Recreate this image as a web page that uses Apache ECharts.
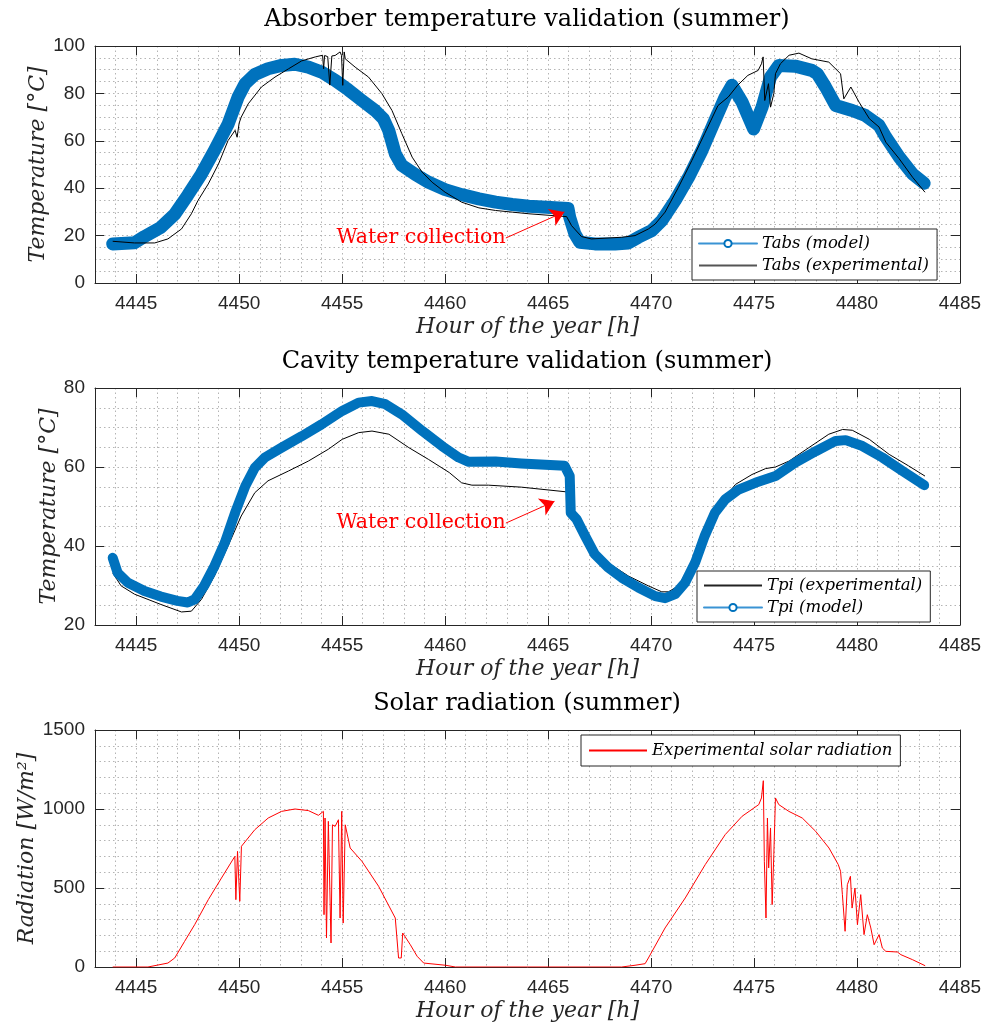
<!DOCTYPE html>
<html>
<head>
<meta charset="utf-8">
<script src="https://cdn.jsdelivr.net/npm/echarts@6/dist/echarts.min.js"></script>
<style>
html,body{margin:0;padding:0;background:#fff;}
#chart{width:981px;height:1027px;}
</style>
</head>
<body>
<div id="chart"></div>
<script>
// ---------- DATA ----------
const xTicks = [4445, 4450, 4455, 4460, 4465, 4470, 4475, 4480, 4485];

// Absorber temperature (plot 1)
const absModelHour = [4443.86, 4444.92, 4445.4, 4446.2, 4446.87, 4447.5, 4448.17, 4448.8, 4449.46, 4449.95, 4450.28, 4450.76, 4451.4, 4452.06, 4452.7, 4453.36, 4454.0, 4454.66, 4455.3, 4455.96, 4456.6, 4457.0, 4457.26, 4457.58, 4457.9, 4458.55, 4459.2, 4460.0, 4460.8, 4461.64, 4462.45, 4463.26, 4464.07, 4465.97, 4466.05, 4466.3, 4466.54, 4467.27, 4468.25, 4468.9, 4469.38, 4470.03, 4470.52, 4471.17, 4471.82, 4472.47, 4473.1, 4473.6, 4473.93, 4474.42, 4474.98, 4475.39, 4475.8, 4476.2, 4477.0, 4477.8, 4478.07, 4478.47, 4478.96, 4479.77, 4480.4, 4481.07, 4481.4, 4482.05, 4482.7, 4483.26];
const absModelTemp = [16.5, 17, 19.6, 23.5, 29, 37, 46, 56, 67, 78.5, 84, 88, 90.4, 91.8, 92.3, 91.1, 89, 85.5, 81.5, 77, 72.8, 69.3, 64.4, 54.5, 49.6, 45.8, 42.5, 39.4, 37.3, 35.5, 34.1, 33.1, 32.4, 31.4, 27.7, 20.7, 17.2, 16.5, 16.5, 16.9, 19.3, 22.1, 26.3, 34.8, 44.6, 55.9, 68.6, 78.5, 83.4, 76.3, 65, 74.2, 86.9, 91.8, 91.5, 89.7, 88.3, 82.7, 74.9, 72.8, 70.7, 66.5, 61.5, 53.1, 46, 42.1];
const absExpHour = [4443.86, 4444.92, 4445.9, 4446.54, 4447.2, 4447.68, 4448.0, 4448.5, 4449.0, 4449.46, 4449.8, 4449.9, 4450.0, 4450.1, 4450.44, 4451.08, 4451.74, 4452.4, 4453.03, 4453.7, 4454.05, 4454.1, 4454.15, 4454.3, 4454.4, 4454.5, 4454.66, 4454.9, 4454.97, 4455.03, 4455.1, 4455.15, 4455.63, 4456.28, 4456.93, 4457.42, 4457.9, 4458.4, 4458.88, 4459.37, 4460.0, 4460.8, 4461.64, 4462.45, 4463.26, 4464.07, 4465.9, 4466.14, 4466.62, 4467.1, 4468.57, 4469.22, 4469.87, 4470.2, 4470.68, 4471.33, 4471.98, 4472.6, 4473.25, 4473.75, 4474.2, 4474.7, 4475.2, 4475.36, 4475.44, 4475.52, 4475.7, 4475.8, 4475.96, 4476.04, 4476.28, 4476.7, 4477.18, 4477.8, 4478.63, 4479.2, 4479.36, 4479.7, 4480.1, 4480.6, 4481.07, 4481.4, 4482.05, 4482.7, 4483.3];
const absExpTemp = [17.6, 16.9, 16.9, 18.6, 22.8, 29.2, 34.8, 41.8, 50.3, 60.1, 64.4, 61.5, 67.5, 70, 75.6, 82.7, 86.9, 90.4, 93.7, 95.4, 96.1, 90.4, 96.0, 95.5, 83.5, 95.8, 96.0, 97.5, 96.0, 83.4, 97.5, 94.6, 91.1, 86.9, 79.9, 72.8, 63, 53.1, 46.8, 42.5, 38.3, 34.1, 31.7, 30.6, 29.9, 29.2, 28.0, 24.2, 19.6, 18.6, 19.3, 20, 22.8, 24.9, 29.9, 40.4, 51.7, 63, 74.9, 78.5, 83.4, 87.6, 89.7, 92.5, 95.4, 77, 84.1, 74.2, 79.9, 88.3, 92.5, 96.1, 97, 94.6, 93.2, 88.3, 77.7, 82.7, 76.3, 69.3, 65.8, 59.4, 52.4, 44.6, 38.3];

// Cavity temperature (plot 2)
const cavExpHour = [4443.86, 4444.27, 4444.92, 4446.2, 4447.2, 4447.68, 4448.17, 4448.8, 4449.46, 4450.1, 4450.76, 4451.4, 4452.4, 4453.36, 4454.33, 4455.0, 4455.8, 4456.45, 4457.27, 4458.24, 4459.2, 4460.2, 4460.8, 4461.3, 4462.1, 4463.7, 4465.9, 4466.14, 4466.62, 4467.27, 4467.9, 4468.9, 4469.87, 4470.52, 4470.84, 4471.33, 4471.98, 4472.8, 4473.44, 4474.1, 4474.9, 4475.56, 4476.04, 4476.7, 4477.66, 4478.63, 4479.3, 4479.77, 4480.6, 4481.56, 4482.5, 4483.3];
const cavExpTemp = [33.2, 29.9, 27.8, 25.2, 23.3, 23.5, 26.5, 32.4, 40, 47.6, 53.5, 56.5, 59, 61.5, 64.5, 67, 68.7, 69.1, 68.3, 64.9, 61.9, 58.6, 56, 55.4, 55.4, 54.9, 53.7, 49.7, 45.1, 39.2, 35.8, 32.4, 29.9, 28.4, 28.4, 29.9, 35.8, 45.1, 51.4, 55.6, 58.1, 59.6, 60, 61.5, 64.9, 68.3, 69.5, 69.3, 67, 63.2, 60.3, 57.7];
const cavModelHour = [4443.86, 4444.1, 4444.6, 4445.4, 4446.2, 4447.0, 4447.5, 4447.84, 4448.3, 4448.8, 4449.3, 4449.8, 4450.3, 4450.76, 4451.25, 4452.06, 4453.04, 4454.0, 4455.0, 4455.8, 4456.45, 4457.1, 4457.9, 4458.9, 4459.85, 4460.66, 4461.15, 4462.45, 4463.7, 4465.8, 4466.05, 4466.1, 4466.38, 4466.8, 4467.27, 4467.9, 4468.57, 4469.38, 4470.2, 4470.68, 4471.17, 4471.65, 4472.14, 4472.6, 4473.1, 4473.6, 4474.25, 4475.06, 4476.04, 4477.0, 4478.0, 4478.96, 4479.45, 4480.26, 4481.23, 4482.2, 4483.26];
const cavModelTemp = [37, 33.2, 30.7, 28.6, 27.2, 26.1, 25.7, 26.5, 29.9, 34.9, 40.8, 48.4, 55.2, 59.8, 62.4, 64.9, 67.8, 70.8, 74.2, 76.3, 76.7, 75.9, 73.3, 69.1, 65.3, 62.4, 61.3, 61.4, 60.9, 60.3, 57.7, 48.4, 46.8, 42.5, 37.9, 34.6, 32, 29.5, 27.3, 26.8, 27.8, 30.7, 35.8, 42.5, 48.4, 51.8, 54.3, 56, 57.7, 61.1, 64, 66.6, 66.8, 65.3, 62.4, 59, 55.4];

// Solar radiation (plot 3)
const radHour = [4443.86, 4445.57, 4446.54, 4446.87, 4447.35, 4447.84, 4448.5, 4449.14, 4449.79, 4449.84, 4449.92, 4450.03, 4450.11, 4450.76, 4451.41, 4452.06, 4452.71, 4453.36, 4453.85, 4454.09, 4454.12, 4454.17, 4454.24, 4454.33, 4454.46, 4454.53, 4454.66, 4454.82, 4454.9, 4454.98, 4455.05, 4455.15, 4455.39, 4455.96, 4456.77, 4457.58, 4457.74, 4457.87, 4457.94, 4458.31, 4458.64, 4458.96, 4460.02, 4460.5, 4468.57, 4469.22, 4469.71, 4469.87, 4470.68, 4471.66, 4472.63, 4473.6, 4474.42, 4475.23, 4475.36, 4475.45, 4475.5, 4475.58, 4475.65, 4475.71, 4475.8, 4475.88, 4475.96, 4476.04, 4476.12, 4476.2, 4476.69, 4477.34, 4477.99, 4478.64, 4479.09, 4479.2, 4479.29, 4479.42, 4479.53, 4479.68, 4479.76, 4479.9, 4480.02, 4480.18, 4480.34, 4480.5, 4480.67, 4480.83, 4481.07, 4481.23, 4481.4, 4481.96, 4482.13, 4482.7, 4483.31];
const radValue = [0, 0, 25, 57, 162, 268, 426, 563, 700, 426, 732, 416, 764, 869, 943, 985, 1000, 990, 960, 985, 331, 943, 184, 922, 152, 900, 890, 932, 310, 985, 278, 900, 753, 669, 511, 310, 57, 57, 215, 141, 68, 25, 11, 0, 0, 11, 21, 57, 247, 437, 648, 838, 954, 1028, 1070, 1179, 669, 310, 943, 627, 880, 395, 711, 1070, 1080, 1028, 985, 943, 859, 753, 648, 606, 458, 226, 521, 574, 373, 500, 268, 458, 205, 331, 247, 141, 205, 120, 99, 95, 78, 46, 8];

// Annotation anchors (data coordinates)
const noteText = 'Water collection';
const note1Text = [4454.73, 19.0], note1From = [4462.95, 19.0], note1To = [4465.79, 30.0];
const note2Text = [4454.73, 45.8], note2From = [4462.95, 45.8], note2To = [4465.31, 51.3];

// ---------- STYLE ----------
const BLUE = '#0072BD';
const AX = '#262626';
const SANS = "'Liberation Sans', Arial, Helvetica, sans-serif";
const SERIF = "'DejaVu Serif', serif";
const grids = [
  {left: 95, right: 21, top: 46, height: 237},
  {left: 95, right: 21, top: 388, height: 237},
  {left: 95, right: 21, top: 730, height: 237}
];
const gridDot = {show: true, lineStyle: {color: '#b4b4b4', width: 1, type: [1.5, 3]}};
const plain = v => String(v);

const pairs = (xs, ys) => xs.map((x, i) => [x, ys[i]]);

const xAxes = [];
const yAxes = [];
const yCfg = [
  {min: 0, max: 100, interval: 20, minor: 4, name: 'Temperature [°C]', gap: 46},
  {min: 20, max: 80, interval: 20, minor: 4, name: 'Temperature [°C]', gap: 35},
  {min: 0, max: 1500, interval: 500, minor: 5, name: 'Radiation [W/m²]', gap: 57}
];
grids.forEach((g, gi) => {
  xAxes.push({
    type: 'value', gridIndex: gi, position: 'bottom', min: 4443, max: 4485,
    axisLine: {show: true, onZero: false, lineStyle: {color: AX, width: 1}},
    axisTick: {show: true, inside: true, length: 9, customValues: xTicks, lineStyle: {color: AX}},
    axisLabel: {show: true, customValues: xTicks, formatter: plain, margin: 11, color: AX, fontFamily: SANS, fontSize: 19},
    splitLine: {show: false},
    name: 'Hour of the year [h]', nameLocation: 'middle', nameGap: 33,
    nameTextStyle: {fontFamily: SERIF, fontStyle: 'italic', fontSize: 22, color: AX}
  });
  xAxes.push({
    type: 'value', gridIndex: gi, position: 'top', min: 4443, max: 4485,
    axisLine: {show: true, onZero: false, lineStyle: {color: AX, width: 1}},
    axisTick: {show: true, inside: true, length: 9, customValues: xTicks, lineStyle: {color: AX}},
    axisLabel: {show: false}, splitLine: {show: false}
  });
  xAxes.push({
    type: 'value', gridIndex: gi, position: 'bottom', min: 4443, max: 4485, interval: 1,
    axisLine: {show: false}, axisTick: {show: false}, axisLabel: {show: false},
    splitLine: gridDot
  });
  const c = yCfg[gi];
  yAxes.push({
    type: 'value', gridIndex: gi, position: 'left', min: c.min, max: c.max, interval: c.interval,
    axisLine: {show: true, onZero: false, lineStyle: {color: AX, width: 1}},
    axisTick: {show: true, inside: true, length: 9, lineStyle: {color: AX}},
    axisLabel: {show: true, formatter: plain, margin: 10, color: AX, fontFamily: SANS, fontSize: 19},
    splitLine: gridDot,
    minorTick: {show: false, splitNumber: c.minor},
    minorSplitLine: {show: true, lineStyle: {color: '#b4b4b4', width: 1, type: [1.5, 3]}},
    name: c.name, nameLocation: 'middle', nameRotate: 90, nameGap: c.gap, nameMoveOverlap: false,
    nameTextStyle: {fontFamily: SERIF, fontStyle: 'italic', fontSize: 22, color: AX}
  });
  yAxes.push({
    type: 'value', gridIndex: gi, position: 'right', min: c.min, max: c.max, interval: c.interval,
    axisLine: {show: true, onZero: false, lineStyle: {color: AX, width: 1}},
    axisTick: {show: true, inside: true, length: 9, lineStyle: {color: AX}},
    axisLabel: {show: false}, splitLine: {show: false}
  });
});

const titleStyle = {fontFamily: SERIF, fontSize: 24, fontWeight: 'normal', color: '#000'};
const legendText = {fontFamily: SERIF, fontStyle: 'italic', fontSize: 16.5, color: '#000', lineHeight: 16};
const legendBase = {
  orient: 'vertical', itemWidth: 58, itemHeight: 9, itemGap: 5,
  padding: [6, 8, 6, 6], borderColor: AX, borderWidth: 1, borderRadius: 0,
  backgroundColor: '#fff', textStyle: legendText, selectedMode: false
};
const modelLegend = (name) => ({name, lineStyle: {color: '#3a93d4', width: 2}});
const lineLegend = (name, color) => ({name, lineStyle: {color, width: 2}, itemStyle: {opacity: 0}});

const noteLabel = {
  show: true, position: [0, 0], align: 'left', verticalAlign: 'middle',
  formatter: noteText, color: '#ff0000', fontFamily: SERIF, fontSize: 20.5
};
const arrowLine = (from, to) => ({
  silent: true, symbol: ['none', 'arrow'], symbolSize: 14,
  lineStyle: {color: '#ff0000', width: 1, type: 'solid'}, label: {show: false},
  data: [[{coord: from}, {coord: to}]], animation: false
});
const noteMark = (pos) => ({
  silent: true, symbol: 'circle', symbolSize: 0, animation: false,
  label: noteLabel, data: [{coord: pos}]
});

const option = {
  animation: false,
  backgroundColor: '#fff',
  title: [
    {text: 'Absorber temperature validation (summer)', left: 527, top: 8, textAlign: 'center', padding: 0, textStyle: titleStyle},
    {text: 'Cavity temperature validation (summer)', left: 527, top: 350, textAlign: 'center', padding: 0, textStyle: titleStyle},
    {text: 'Solar radiation (summer)', left: 527, top: 692, textAlign: 'center', padding: 0, textStyle: titleStyle}
  ],
  grid: grids.map(g => Object.assign({containLabel: false, outerBoundsMode: 'none'}, g)),
  xAxis: xAxes,
  yAxis: yAxes,
  legend: [
    Object.assign({}, legendBase, {left: 692, top: 229, data: [modelLegend('Tabs (model)'), lineLegend('Tabs (experimental)', '#555')]}),
    Object.assign({}, legendBase, {left: 697, top: 571, data: [lineLegend('Tpi (experimental)', '#222'), modelLegend('Tpi (model)')]}),
    Object.assign({}, legendBase, {left: 581, top: 735, padding: [7, 8, 7, 7], data: [lineLegend('Experimental solar radiation', '#ff0000')]})
  ],
  series: [
    {
      name: 'Tabs (model)', type: 'line', xAxisIndex: 0, yAxisIndex: 0,
      data: pairs(absModelHour, absModelTemp), symbol: 'emptyCircle', showSymbol: false,
      lineStyle: {color: BLUE, width: 13, cap: 'round', join: 'round'}, itemStyle: {color: BLUE}, z: 2
    },
    {
      name: 'Tabs (experimental)', type: 'line', xAxisIndex: 0, yAxisIndex: 0,
      data: pairs(absExpHour, absExpTemp), symbol: 'none',
      lineStyle: {color: '#000', width: 1}, itemStyle: {color: '#000'}, z: 3,
      markLine: arrowLine(note1From, note1To), markPoint: noteMark(note1Text)
    },
    {
      name: 'Tpi (experimental)', type: 'line', xAxisIndex: 3, yAxisIndex: 2,
      data: pairs(cavExpHour, cavExpTemp), symbol: 'none',
      lineStyle: {color: '#000', width: 1}, itemStyle: {color: '#000'}, z: 2,
      markLine: arrowLine(note2From, note2To), markPoint: noteMark(note2Text)
    },
    {
      name: 'Tpi (model)', type: 'line', xAxisIndex: 3, yAxisIndex: 2,
      data: pairs(cavModelHour, cavModelTemp), symbol: 'emptyCircle', showSymbol: false,
      lineStyle: {color: BLUE, width: 10, cap: 'round', join: 'round'}, itemStyle: {color: BLUE}, z: 3
    },
    {
      name: 'Experimental solar radiation', type: 'line', xAxisIndex: 6, yAxisIndex: 4,
      data: pairs(radHour, radValue), symbol: 'none',
      lineStyle: {color: '#ff0000', width: 1}, itemStyle: {color: '#ff0000'}, z: 3
    }
  ]
};

const chart = echarts.init(document.getElementById('chart'), null, {renderer: 'canvas'});
chart.setOption(option);
</script>
</body>
</html>
